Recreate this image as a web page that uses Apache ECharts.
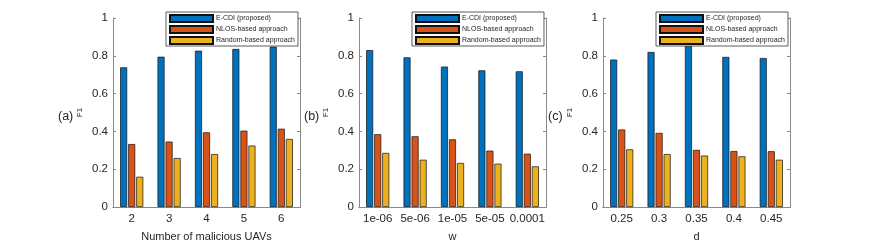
<!DOCTYPE html>
<html>
<head>
<meta charset="utf-8">
<script src="https://cdn.jsdelivr.net/npm/echarts@6/dist/echarts.min.js"></script>
<style>html,body{margin:0;padding:0;background:#fff;}#c{width:872px;height:244px;}</style>
</head>
<body>
<div id="c"></div>
<script>
const seriesNames = ['E-CDI (proposed)', 'NLOS-based approach', 'Random-based approach'];
const panelLabels = ['(a)', '(b)', '(c)'];
const xNames = ['Number of malicious UAVs', 'w', 'd'];
const yName = 'F1';
const yTicks = [0, 0.2, 0.4, 0.6, 0.8, 1];

const catsA = ['2', '3', '4', '5', '6'];
const catsB = ['1e-06', '5e-06', '1e-05', '5e-05', '0.0001'];
const catsC = ['0.25', '0.3', '0.35', '0.4', '0.45'];

const ecdiA = [0.739, 0.795, 0.827, 0.836, 0.848];
const nlosA = [0.333, 0.346, 0.395, 0.404, 0.414];
const randA = [0.160, 0.259, 0.280, 0.325, 0.360];

const ecdiB = [0.830, 0.792, 0.743, 0.723, 0.718];
const nlosB = [0.385, 0.374, 0.358, 0.298, 0.282];
const randB = [0.286, 0.250, 0.233, 0.229, 0.215];

const ecdiC = [0.780, 0.820, 0.855, 0.794, 0.788];
const nlosC = [0.410, 0.392, 0.302, 0.296, 0.295];
const randC = [0.305, 0.280, 0.272, 0.268, 0.250];

const cats = [catsA, catsB, catsC];
const vals = [[ecdiA, nlosA, randA], [ecdiB, nlosB, randB], [ecdiC, nlosC, randC]];
const colors = ['#0072BD', '#D95319', '#EDB120'];

const gridLefts = [113, 359, 603];
const gridW = 187, gridTop = 18, gridH = 189;
const axisCol = '#8a8a8a';
const txtCol = '#262626';
const font = 'Liberation Sans, Arial, Helvetica, sans-serif';

const grid = [], xAxis = [], yAxis = [], series = [], legend = [], title = [];
for (let i = 0; i < 3; i++) {
  grid.push({left: gridLefts[i], top: gridTop, width: gridW, height: gridH,
    containLabel: false, outerBoundsMode: 'none'});
}
for (let i = 0; i < 3; i++) {
  xAxis.push({
    type: 'category', gridIndex: i, data: cats[i], position: 'bottom',
    name: xNames[i], nameLocation: 'middle', nameGap: 24,
    nameTextStyle: {fontSize: 11, color: txtCol, fontFamily: font},
    axisLine: {lineStyle: {color: axisCol, width: 1}},
    axisTick: {inside: true, length: 3, alignWithLabel: true, lineStyle: {color: axisCol}},
    axisLabel: {fontSize: 11.5, color: txtCol, margin: 6, fontFamily: font, interval: 0},
    splitLine: {show: false}
  });
}
for (let i = 0; i < 3; i++) {
  xAxis.push({
    type: 'category', gridIndex: i, data: cats[i], position: 'top',
    axisLine: {lineStyle: {color: axisCol, width: 1}},
    axisTick: {inside: true, length: 3, alignWithLabel: true, lineStyle: {color: axisCol}},
    axisLabel: {show: false}, splitLine: {show: false}
  });
}
for (let i = 0; i < 3; i++) {
  yAxis.push({
    type: 'value', gridIndex: i, min: 0, max: 1, interval: 0.2, position: 'left',
    name: yName, nameLocation: 'middle', nameGap: 29, nameRotate: 90,
    nameTextStyle: {fontSize: 8, color: txtCol, fontFamily: font},
    axisLine: {show: true, lineStyle: {color: axisCol, width: 1}},
    axisTick: {show: true, inside: true, length: 3, lineStyle: {color: axisCol}},
    axisLabel: {fontSize: 11.5, color: txtCol, margin: 5, fontFamily: font,
      formatter: v => (yTicks.includes(Math.round(v * 10) / 10) ? String(Math.round(v * 10) / 10) : '')},
    splitLine: {show: false}
  });
}
for (let i = 0; i < 3; i++) {
  yAxis.push({
    type: 'value', gridIndex: i, min: 0, max: 1, interval: 0.2, position: 'right',
    axisLine: {show: true, lineStyle: {color: axisCol, width: 1}},
    axisTick: {show: true, inside: true, length: 3, lineStyle: {color: axisCol}},
    axisLabel: {show: false}, splitLine: {show: false}
  });
}
for (let i = 0; i < 3; i++) {
  for (let s = 0; s < 3; s++) {
    series.push({
      type: 'bar', name: seriesNames[s], xAxisIndex: i, yAxisIndex: i,
      data: vals[i][s], barWidth: 7, barGap: '15%',
      itemStyle: {color: colors[s], borderColor: '#111', borderWidth: 0.7},
      emphasis: {disabled: true}, animation: false
    });
  }
  legend.push({
    data: seriesNames, orient: 'vertical', left: gridLefts[i] + 53, top: 12,
    icon: 'rect', itemWidth: 43, itemHeight: 7, itemGap: 2,
    padding: [2, 3, 1, 3], borderColor: '#333', borderWidth: 0.8, backgroundColor: '#fff',
    textStyle: {fontSize: 7, color: txtCol, fontFamily: font, lineHeight: 9, padding: [0, 0, 0, -2]},
    selectedMode: false, z: 10
  });
  title.push({
    text: panelLabels[i], left: gridLefts[i] - 60, top: 105,
    textStyle: {fontSize: 12.5, fontWeight: 'normal', color: txtCol, fontFamily: font}
  });
}

const chart = echarts.init(document.getElementById('c'), null, {renderer: 'canvas'});
chart.setOption({animation: false, title, grid, xAxis, yAxis, series, legend});
</script>
</body>
</html>
